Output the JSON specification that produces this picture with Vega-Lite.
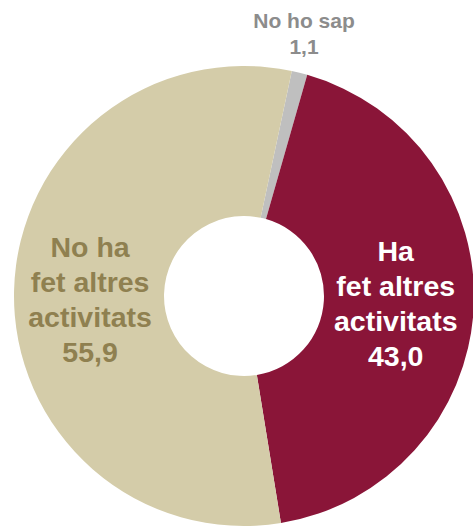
{
  "$schema": "https://vega.github.io/schema/vega-lite/v6.json",
  "width": 458,
  "height": 460,
  "autosize": "none",
  "padding": {"left": 15, "top": 66, "right": 0, "bottom": 0},
  "background": "white",
  "view": {"stroke": null},
  "data": {
    "values": [
      {"cat": "No ho sap", "value": 1.1, "ord": 1, "label": "No ho sap\n1,1"},
      {"cat": "Ha fet altres activitats", "value": 43.0, "ord": 2, "label": "Ha\nfet altres\nactivitats\n43,0"},
      {"cat": "No ha fet altres activitats", "value": 55.9, "ord": 3, "label": "No ha\nfet altres\nactivitats\n55,9"}
    ]
  },
  "encoding": {
    "theta": {"field": "value", "type": "quantitative", "stack": true, "scale": {"range": [0.2094, 6.4926]}},
    "order": {"field": "ord", "type": "quantitative"}
  },
  "layer": [
    {
      "mark": {"type": "arc", "outerRadius": 230, "innerRadius": 80},
      "encoding": {
        "color": {
          "field": "cat",
          "type": "nominal",
          "scale": {
            "domain": ["No ho sap", "Ha fet altres activitats", "No ha fet altres activitats"],
            "range": ["#BFBFBF", "#8A1538", "#D4CCA9"]
          },
          "legend": null
        }
      }
    },
    {
      "mark": {"type": "text", "radius": 154, "fontSize": 28.5, "fontWeight": "bold", "font": "Liberation Sans", "lineBreak": "\n", "lineHeight": 35, "align": "center", "baseline": "middle", "dy": -44, "color": "#8F8050"},
      "encoding": {
        "detail": {"field": "cat", "type": "nominal"},
        "text": {"condition": {"test": "datum.cat === 'No ha fet altres activitats'", "field": "label", "type": "nominal"}, "value": ""}
      }
    },
    {
      "mark": {"type": "text", "radius": 152, "fontSize": 28.5, "fontWeight": "bold", "font": "Liberation Sans", "lineBreak": "\n", "lineHeight": 35, "align": "center", "baseline": "middle", "dy": -53, "color": "#FFFFFF"},
      "encoding": {
        "detail": {"field": "cat", "type": "nominal"},
        "text": {"condition": {"test": "datum.cat === 'Ha fet altres activitats'", "field": "label", "type": "nominal"}, "value": ""}
      }
    },
    {
      "mark": {"type": "text", "radius": 269, "fontSize": 21, "fontWeight": "bold", "font": "Liberation Sans", "lineBreak": "\n", "lineHeight": 26, "align": "center", "baseline": "middle", "dx": -5, "dy": -13, "color": "#8C8C8C"},
      "encoding": {
        "detail": {"field": "cat", "type": "nominal"},
        "text": {"condition": {"test": "datum.cat === 'No ho sap'", "field": "label", "type": "nominal"}, "value": ""}
      }
    }
  ]
}
